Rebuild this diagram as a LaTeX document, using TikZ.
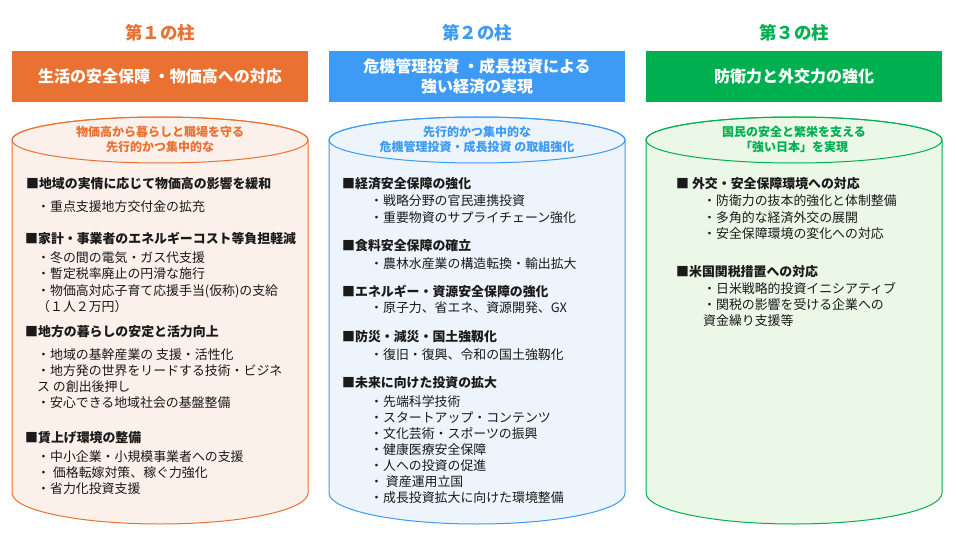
\documentclass[tikz,border=0pt]{standalone}
\usepackage{fontspec}
\setmainfont{Noto Sans CJK JP}
\definecolor{org}{HTML}{E97132}
\definecolor{orgl}{HTML}{FBF0EA}
\definecolor{blu}{HTML}{3D9AF5}
\definecolor{blul}{HTML}{EDF4FB}
\definecolor{grn}{HTML}{00B050}
\definecolor{grnl}{HTML}{EBF7E7}
\definecolor{txt}{HTML}{1A1A1A}
\newcommand\mycyl[3]{%
  \filldraw[draw=#2, fill=#3, line width=1pt]
    (#1-148,140) -- (#1-148,493)
    arc[start angle=180,end angle=360,x radius=148pt,y radius=31pt]
    -- (#1+148,140)
    arc[start angle=0,end angle=180,x radius=148pt,y radius=23pt] -- cycle;
  \draw[draw=#2, line width=1pt] (#1,140) ellipse[x radius=148pt, y radius=23pt];
}
\begin{document}
\begin{tikzpicture}[x=1pt,y=-1pt,
  pillar/.style={inner sep=0, font=\fontsize{17.5}{20}\selectfont\bfseries},
  hdr/.style={minimum width=296pt, minimum height=51pt, inner sep=0, text=white,
    font=\fontsize{16}{20}\selectfont\bfseries, align=center},
  captext/.style={inner sep=0, font=\fontsize{12}{15}\selectfont\bfseries, align=center},
  head/.style={anchor=west, inner sep=0, font=\fontsize{12.9}{15}\selectfont\bfseries, text=txt},
  item/.style={anchor=west, inner sep=0, font=\fontsize{12.9}{15}\selectfont, text=txt}]
\useasboundingbox (0,0) rectangle (956,556);
\fill[white] (0,0) rectangle (956,556);

% ---------- column 1 ----------
\node[pillar, text=org] (t1) at (160,33) {第１の柱};
\node[hdr, fill=org] (h1) at (160,76.5) {生活の安全保障 ・物価高への対応};
\mycyl{160}{org}{orgl}
\node[captext, text=org] (c1a) at (160,132) {物価高から暮らしと職場を守る};
\node[captext, text=org] (c1b) at (160,147) {先行的かつ集中的な};
\node[head] (a1) at (26,184) {■地域の実情に応じて物価高の影響を緩和};
\node[item] (a2) at (37,207) {・重点支援地方交付金の拡充};
\node[head] (a3) at (25,238) {■家計・事業者のエネルギーコスト等負担軽減};
\node[item] (a4) at (37,258) {・冬の間の電気・ガス代支援};
\node[item] (a5) at (37,274) {・暫定税率廃止の円滑な施行};
\node[item] (a6) at (37,291) {・物価高対応子育て応援手当(仮称)の支給};
\node[item] (a7) at (37,307) {（１人２万円）};
\node[head] (a8) at (25,332) {■地方の暮らしの安定と活力向上};
\node[item] (a9) at (37,355) {・地域の基幹産業の 支援・活性化};
\node[item] (a10) at (37,371) {・地方発の世界をリードする技術・ビジネ};
\node[item] (a11) at (37,387) {ス の創出後押し};
\node[item] (a12) at (37,403) {・安心できる地域社会の基盤整備};
\node[head] (a13) at (25,438) {■賃上げ環境の整備};
\node[item] (a14) at (37,457) {・中小企業・小規模事業者への支援};
\node[item] (a15) at (37,473) {・ 価格転嫁対策、稼ぐ力強化};
\node[item] (a16) at (37,489) {・省力化投資支援};

% ---------- column 2 ----------
\node[pillar, text=blu] (t2) at (477,33) {第２の柱};
\node[hdr, fill=blu] (h2) at (477,76.5) {危機管理投資 ・成長投資による\\強い経済の実現};
\mycyl{477}{blu}{blul}
\node[captext, text=blu] (c2a) at (477,132) {先行的かつ集中的な};
\node[captext, text=blu] (c2b) at (477,147) {危機管理投資・成長投資 の取組強化};
\node[head] (b1) at (342,184) {■経済安全保障の強化};
\node[item] (b2) at (370,201) {・戦略分野の官民連携投資};
\node[item] (b3) at (370,218) {・重要物資のサプライチェーン強化};
\node[head] (b4) at (342,246) {■食料安全保障の確立};
\node[item] (b5) at (370,264) {・農林水産業の構造転換・輸出拡大};
\node[head] (b6) at (342,291) {■エネルギー・資源安全保障の強化};
\node[item] (b7) at (370,308) {・原子力、省エネ、資源開発、GX};
\node[head] (b8) at (342,337) {■防災・減災・国土強靱化};
\node[item] (b9) at (370,355) {・復旧・復興、令和の国土強靱化};
\node[head] (b10) at (342,383) {■未来に向けた投資の拡大};
\node[item] (b11) at (370,402) {・先端科学技術};
\node[item] (b12) at (370,418) {・スタートアップ・コンテンツ};
\node[item] (b13) at (370,434) {・文化芸術・スポーツの振興};
\node[item] (b14) at (370,450) {・健康医療安全保障};
\node[item] (b15) at (370,466) {・人への投資の促進};
\node[item] (b16) at (370,482) {・ 資産運用立国};
\node[item] (b17) at (370,498) {・成長投資拡大に向けた環境整備};

% ---------- column 3 ----------
\node[pillar, text=grn] (t3) at (794,33) {第３の柱};
\node[hdr, fill=grn] (h3) at (794,76.5) {防衛力と外交力の強化};
\mycyl{794}{grn}{grnl}
\node[captext, text=grn] (c3a) at (794,132) {国民の安全と繁栄を支える};
\node[captext, text=grn] (c3b) at (794,147) {「強い日本」を実現};
\node[head] (d1) at (676,184) {■ 外交・安全保障環境への対応};
\node[item] (d2) at (703,201) {・防衛力の抜本的強化と体制整備};
\node[item] (d3) at (703,218) {・多角的な経済外交の展開};
\node[item] (d4) at (703,234) {・安全保障環境の変化への対応};
\node[head] (d5) at (676,272) {■米国関税措置への対応};
\node[item] (d6) at (703,289) {・日米戦略的投資イニシアティブ};
\node[item] (d7) at (703,305) {・関税の影響を受ける企業への};
\node[item] (d8) at (703,321) {資金繰り支援等};
\end{tikzpicture}
\end{document}
